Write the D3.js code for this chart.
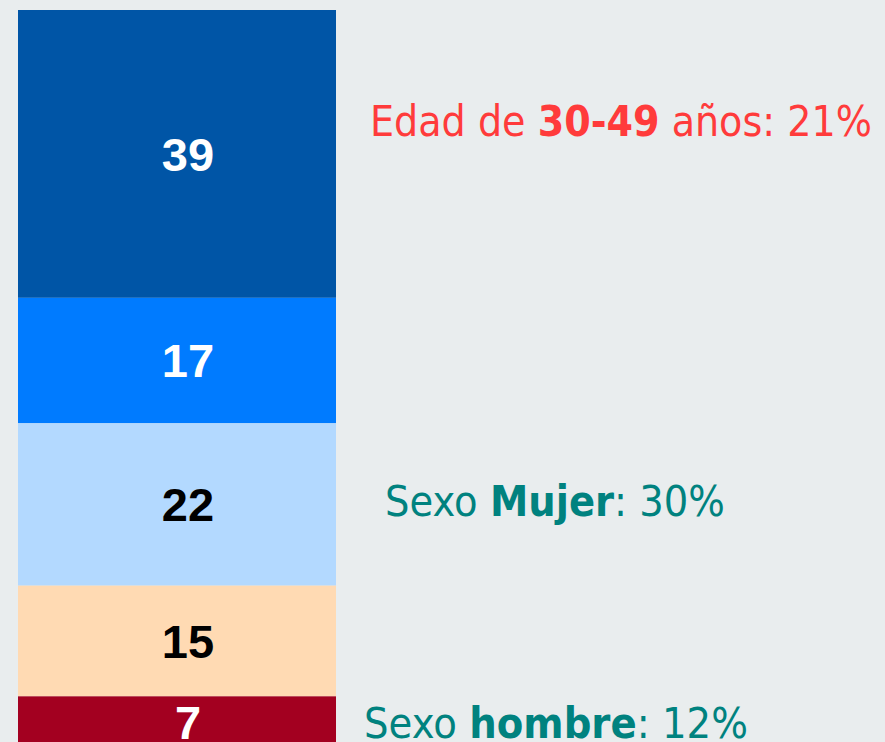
<!DOCTYPE html>
<html>
<head>
<meta charset="utf-8">
<script src="https://cdn.jsdelivr.net/npm/d3@7"></script>
<style>
  html, body { margin: 0; padding: 0; background: #e9edee; overflow: hidden; }
  .segLabel { font-family: "Liberation Sans", Arial, sans-serif; font-weight: bold; font-size: 47px; }
  .note { font-family: "DejaVu Sans", Verdana, sans-serif; font-size: 42px; }
</style>
</head>
<body>
<div id="chart"></div>
<script>
// stacked segments, top to bottom
var segments = ["s39", "s17", "s22", "s15", "s7"];
var values = [39, 17, 22, 15, 7];
var segColors = ["#0055a6", "#007bff", "#b3d9ff", "#ffdab3", "#a30020"];
var labelColors = ["#ffffff", "#ffffff", "#000000", "#000000", "#ffffff"];

// side notes: [normal, bold, normal]
var noteParts = [
  ["Edad de ", "30-49", " años: 21%"],
  ["Sexo ", "Mujer", ": 30%"],
  ["Sexo ", "hombre", ": 12%"]
];
var noteColors = ["#ff3b3b", "#00827f", "#00827f"];

var width = 885, height = 742;

var svg = d3.select("#chart")
  .append("svg")
  .attr("width", width)
  .attr("height", height);

svg.append("rect")
  .attr("width", width).attr("height", height)
  .attr("fill", "#e9edee");

var stackData = [];
var acc = 0;
values.forEach(function(v, i) {
  stackData.push({ key: segments[i], value: v, y0: acc, y1: acc + v, i: i });
  acc += v;
});

var y = d3.scaleLinear()
  .domain([0, d3.sum(values)])
  .range([10, 748]);

var x = d3.scaleBand()
  .domain(["bar"])
  .range([18, 336])
  .padding(0);

var color = d3.scaleOrdinal().domain(segments).range(segColors);

var g = svg.selectAll("g.seg")
  .data(stackData)
  .enter().append("g")
  .attr("class", "seg");

g.append("rect")
  .attr("x", x("bar"))
  .attr("width", x.bandwidth())
  .attr("y", function(d) { return y(d.y0); })
  .attr("height", function(d) { return y(d.y1) - y(d.y0); })
  .attr("fill", function(d) { return color(d.key); });

// labels sit a little right of the bar centre in the original
g.append("text")
  .attr("class", "segLabel")
  .attr("x", x("bar") + x.bandwidth() / 2 + 11)
  .attr("y", function(d) { return (y(d.y0) + y(d.y1)) / 2; })
  .attr("dy", "0.36em")
  .attr("text-anchor", "middle")
  .attr("fill", function(d) { return labelColors[d.i]; })
  .text(function(d) { return d.value; });

// notes: left x, baseline y, target width
var notePos = [
  { x: 370, y: 136, w: 502 },
  { x: 385, y: 516, w: 340 },
  { x: 364, y: 738, w: 384 }
];

noteParts.forEach(function(parts, i) {
  var p = notePos[i];
  var t = svg.append("text")
    .attr("class", "note")
    .attr("fill", noteColors[i]);
  parts.forEach(function(s, j) {
    t.append("tspan")
      .attr("font-weight", j === 1 ? "bold" : "normal")
      .style("white-space", "pre")
      .text(s);
  });
  var bb = t.node().getBBox();
  var sx = p.w / bb.width;
  t.attr("transform", "translate(" + p.x + "," + p.y + ") scale(" + sx + ",1) translate(" + (-bb.x) + ",0)");
});
</script>
</body>
</html>
